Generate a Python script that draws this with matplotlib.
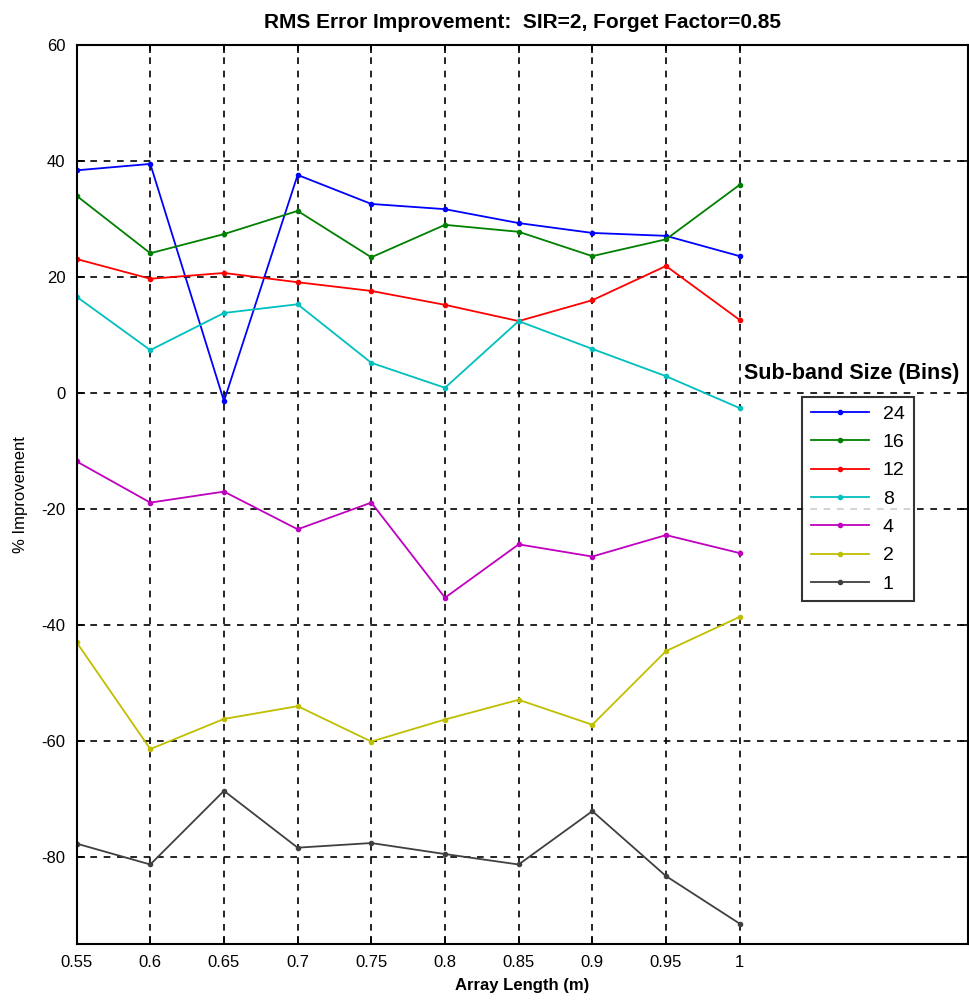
import matplotlib
matplotlib.use("Agg")
import matplotlib.pyplot as plt

plt.rcParams['font.family'] = ['Liberation Sans', 'DejaVu Sans']
plt.rcParams['axes.unicode_minus'] = False

# Datos
array_length = [0.55, 0.6, 0.65, 0.7, 0.75, 0.8, 0.85, 0.9, 0.95, 1.0]
bins = ['24', '16', '12', '8', '4', '2', '1']

imp_24 = [38.4, 39.5, -1.4, 37.6, 32.6, 31.7, 29.3, 27.6, 27.1, 23.6]
imp_16 = [34.0, 24.1, 27.4, 31.4, 23.4, 29.0, 27.8, 23.6, 26.5, 35.9]
imp_12 = [23.1, 19.7, 20.7, 19.1, 17.6, 15.2, 12.4, 16.0, 21.9, 12.6]
imp_8 = [16.6, 7.4, 13.8, 15.3, 5.2, 0.9, 12.4, 7.6, 2.9, -2.6]
imp_4 = [-11.8, -18.9, -17.0, -23.5, -18.9, -35.3, -26.1, -28.2, -24.5, -27.6]
imp_2 = [-43.0, -61.4, -56.2, -54.0, -60.1, -56.3, -52.9, -57.2, -44.5, -38.6]
imp_1 = [-77.7, -81.3, -68.6, -78.4, -77.6, -79.5, -81.3, -72.1, -83.3, -91.5]

series = [imp_24, imp_16, imp_12, imp_8, imp_4, imp_2, imp_1]
colores = ['#0000ff', '#008000', '#ff0000', '#00bfbf', '#bf00bf', '#bfbf00', '#404040']

fig = plt.figure(figsize=(9.7, 10.01), dpi=100)
ax = fig.add_axes([0.079, 0.057, 0.919, 0.898])

for vals, c, lab in zip(series, colores, bins):
    ax.plot(array_length, vals, color=c, lw=1.3, marker='.', ms=6, label=lab)

ax.set_xlim(0.55, 1.155)
ax.set_ylim(-95, 60)
ax.set_xticks(array_length)
ax.set_xticklabels(['0.55', '0.6', '0.65', '0.7', '0.75', '0.8', '0.85', '0.9', '0.95', '1'])
ax.set_yticks([-80, -60, -40, -20, 0, 20, 40, 60])
ax.tick_params(direction='in', length=6, width=1.2, labelsize=12, top=True, right=True, pad=8)
for s in ax.spines.values():
    s.set_linewidth(1.5)
ax.grid(True, color='black', linestyle=(0, (4, 4)), linewidth=1.2)

ax.set_title('RMS Error Improvement:  SIR=2, Forget Factor=0.85', fontsize=15, fontweight='bold', pad=12)
ax.set_xlabel('Array Length (m)', fontsize=12, fontweight='bold', labelpad=6)
ax.set_ylabel('% Improvement', fontsize=12, labelpad=10)

leg = ax.legend(loc='upper left', bbox_to_anchor=(0.814, 0.609), frameon=True, fancybox=False,
                edgecolor='black', handlelength=3.0, handletextpad=0.7, labelspacing=0.55,
                borderpad=0.45, borderaxespad=0, prop={'size': 14})
leg.get_frame().set_linewidth(1.5)
ax.text(0.749, 0.635, 'Sub-band Size (Bins)', transform=ax.transAxes, fontsize=15.5,
        fontweight='bold', va='center', ha='left')

fig.savefig('out.png', dpi=100)
